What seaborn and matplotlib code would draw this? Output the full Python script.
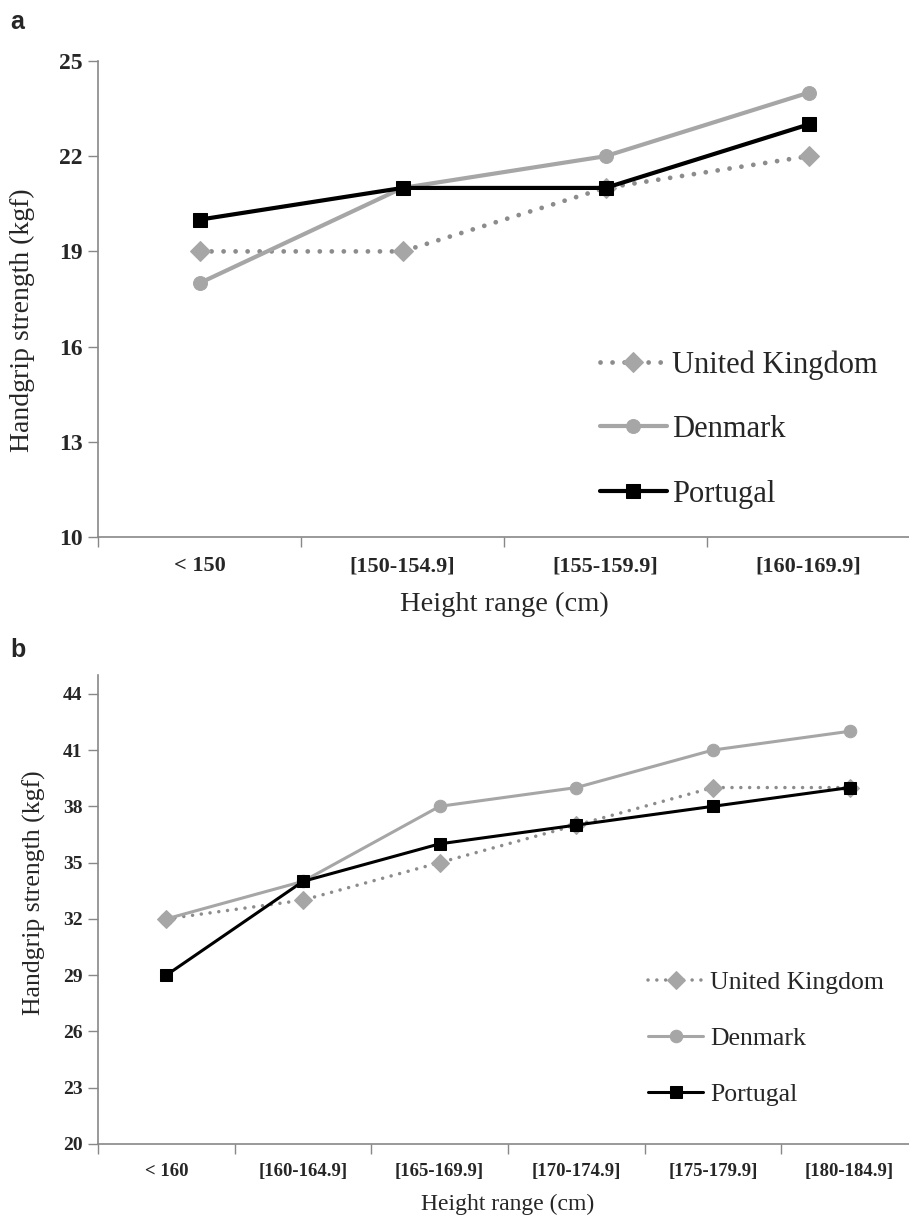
import numpy as np
import pandas as pd
import seaborn as sns
import matplotlib.pyplot as plt

# panel a (women)
cats_a = ["< 150", "[150-154.9]", "[155-159.9]", "[160-169.9]"]
uk_a = [19, 19, 21, 22]
dk_a = [18, 21, 22, 24]
pt_a = [20, 21, 21, 23]
yticks_a = [10, 13, 16, 19, 22, 25]

# panel b (men)
cats_b = ["< 160", "[160-164.9]", "[165-169.9]", "[170-174.9]", "[175-179.9]", "[180-184.9]"]
uk_b = [32, 33, 35, 37, 39, 39]
dk_b = [32, 34, 38, 39, 41, 42]
pt_b = [29, 34, 36, 37, 38, 39]
yticks_b = [20, 23, 26, 29, 32, 35, 38, 41, 44]

countries = ["United Kingdom", "Denmark", "Portugal"]

sns.set_style("white")
plt.rcParams['font.family'] = ['Liberation Serif', 'DejaVu Serif']

W, H = 909, 1218
fig = plt.figure(figsize=(W / 100, H / 100), dpi=100)


def px_axes(left, top, right, bottom):
    return fig.add_axes([left / W, 1 - bottom / H, (right - left) / W, (bottom - top) / H])


def draw_panel(ax, cats, uk, dk, pt, yticks, ylim, lw, ms, ytick_fs, xtick_fs, lab_fs, leg_fs,
               leg_anchor, spacing, hlen, hpad):
    n = len(cats)
    df = pd.DataFrame({
        "cat": cats * 3,
        "val": uk + dk + pt,
        "country": sum([[c] * n for c in countries], []),
    })
    styles = {
        "United Kingdom": dict(color="#8c8c8c", ls=(0, (0.01, 2.5)), lw=lw * 1.15, marker="D", mfc="#a6a6a6", ms=ms),
        "Denmark": dict(color="#a6a6a6", ls="-", lw=lw, marker="o", mfc="#a6a6a6", ms=ms),
        "Portugal": dict(color="black", ls="-", lw=lw, marker="s", mfc="black", ms=ms),
    }
    for c in countries:
        s = styles[c]
        sub = df[df.country == c]
        sns.lineplot(data=sub, x="cat", y="val", ax=ax, color=s["color"], linewidth=s["lw"],
                     linestyle=s["ls"], marker=s["marker"], markersize=s["ms"],
                     markerfacecolor=s["mfc"], markeredgecolor=s["mfc"],
                     dash_capstyle="round", label=c, sort=False)
    ax.set_xlim(-0.5, n - 0.5)
    ax.set_ylim(*ylim)
    ax.set_yticks(yticks)
    ax.set_xticks(range(n))
    ax.set_xticklabels(cats, fontsize=xtick_fs, fontweight="bold")
    ax.set_xticks(np.arange(-0.5, n, 1.0), minor=True)
    for lab in ax.get_yticklabels():
        lab.set_fontsize(ytick_fs)
        lab.set_fontweight("bold")
    ax.tick_params(axis="x", which="major", length=0, pad=14)
    ax.tick_params(axis="x", which="minor", length=7, color="#888888", width=1, bottom=True)
    ax.tick_params(axis="y", length=7, color="#888888", width=1, left=True, pad=4)
    for sp in ["top", "right"]:
        ax.spines[sp].set_visible(False)
    for sp in ["left", "bottom"]:
        ax.spines[sp].set_color("#888888")
        ax.spines[sp].set_linewidth(1.2)
    ax.set_xlabel("Height range (cm)", fontsize=lab_fs[0])
    ax.set_ylabel("Handgrip strength (kgf)", fontsize=lab_fs[1])
    ax.legend(loc="center left", bbox_to_anchor=leg_anchor, frameon=False, fontsize=leg_fs,
              handlelength=hlen, handletextpad=hpad, labelspacing=spacing)


ax_a = px_axes(98, 61, 910, 537)
draw_panel(ax_a, cats_a, uk_a, dk_a, pt_a, yticks_a, (10, 25), 3.0, 10, 17, 16, (20.5, 20), 22,
           (0.584, 0.226), 1.16, 2.2, 0.17)
ax_a.xaxis.set_label_coords(0.5, -0.115)
ax_a.yaxis.set_label_coords(-0.078, 0.456)

ax_b = px_axes(98, 675, 918, 1144)
draw_panel(ax_b, cats_b, uk_b, dk_b, pt_b, yticks_b, (20, 45), 2.2, 9, 14, 13.5, (17, 18.5), 18.5,
           (0.643, 0.225), 1.3, 2.14, 0.27)
ax_b.xaxis.set_label_coords(0.5, -0.106)
ax_b.yaxis.set_label_coords(-0.063, 0.535)

fig.text(10 / W, 1 - 22 / H, "a", fontsize=18, fontweight="bold", family="Liberation Sans", va="center")
fig.text(10 / W, 1 - 650 / H, "b", fontsize=18, fontweight="bold", family="Liberation Sans", va="center")

fig.savefig("out.png", dpi=100)
